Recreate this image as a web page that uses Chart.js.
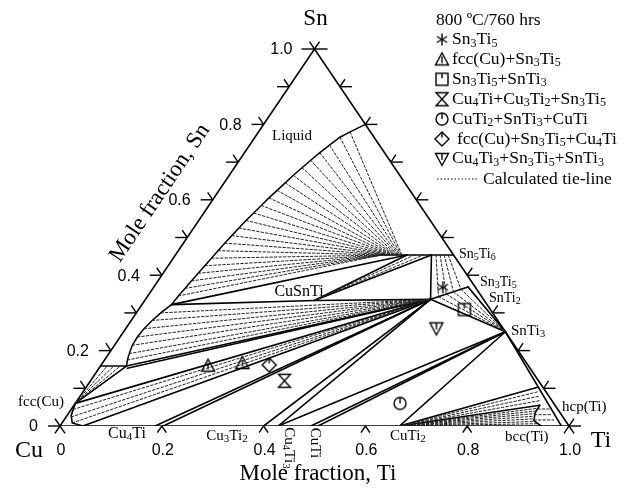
<!DOCTYPE html>
<html>
<head>
<meta charset="utf-8">
<script src="https://cdn.jsdelivr.net/npm/chart.js@4.4.1/dist/chart.umd.min.js"></script>
<style>
  html, body { margin: 0; padding: 0; background: #fff; }
  #wrap { width: 624px; height: 491px; }
</style>
</head>
<body>
<div id="wrap"><canvas id="chart" width="624" height="491"></canvas></div>
<script>
// Compositions are [x(Ti), x(Sn)] mole fractions; x(Cu) = 1 - x(Ti) - x(Sn).

const frame = [[0, 0], [1, 0], [0, 1], [0, 0]];

// liquid boundary, from the Sn-Ti side down to the Cu-rich end
const liquidBoundary = [
  [0.200, 0.800], [0.180, 0.780], [0.167, 0.766], [0.157, 0.745], [0.148, 0.725],
  [0.140, 0.705], [0.133, 0.685], [0.126, 0.665], [0.120, 0.645], [0.114, 0.625],
  [0.108, 0.605], [0.103, 0.585], [0.098, 0.565], [0.093, 0.545], [0.089, 0.525],
  [0.085, 0.505], [0.081, 0.485], [0.078, 0.465], [0.075, 0.445], [0.072, 0.425],
  [0.069, 0.405], [0.066, 0.385], [0.063, 0.365], [0.060, 0.345], [0.058, 0.322],
  [0.048, 0.300], [0.041, 0.280], [0.036, 0.258], [0.034, 0.236], [0.035, 0.214],
  [0.040, 0.192], [0.045, 0.175], [0.051, 0.159]
];

// phase boundaries and three-phase triangle edges
const phaseLines = [
  [[0.410, 0.4535], [0.5465, 0.4535]],            // Sn5Ti6
  [[0.058, 0.322], [0.455, 0.4535]],
  [[0.058, 0.322], [0.333, 0.333], [0.560, 0.336]], // through CuSnTi
  [[0.333, 0.333], [0.455, 0.4535]],
  [[0.333, 0.333], [0.503, 0.4535]],
  [[0.503, 0.4535], [0.560, 0.336]],
  [[0.560, 0.336], [0.617, 0.369]],               // Sn3Ti5
  [[0.617, 0.369], [0.750, 0.250]],
  [[0.560, 0.336], [0.750, 0.250]],
  [[0.051, 0.159], [0.000, 0.159]],
  [[0.051, 0.159], [0.560, 0.336]],
  [[0.056, 0.153], [0.560, 0.336]],
  [[0.000, 0.060], [0.051, 0.159]],
  [[0.000, 0.060], [0.560, 0.336]],
  [[0.000, 0.060], [0.008, 0.028], [0.020, 0.008], [0.045, 0.000]],
  [[0.045, 0.000], [0.560, 0.336]],
  [[0.187, 0.000], [0.560, 0.336]],               // Cu4Ti
  [[0.203, 0.000], [0.560, 0.336]],
  [[0.400, 0.000], [0.560, 0.336]],               // Cu3Ti2
  [[0.4286, 0.000], [0.560, 0.336]],              // Cu4Ti3
  [[0.4286, 0.000], [0.750, 0.250]],
  [[0.493, 0.000], [0.750, 0.250]],               // CuTi
  [[0.507, 0.000], [0.750, 0.250]],
  [[0.667, 0.000], [0.750, 0.250]],               // CuTi2
  [[0.750, 0.250], [0.985, 0.000]],               // hcp(Ti) limit
  [[0.667, 0.000], [0.887, 0.103]],
  [[0.667, 0.000], [0.915, 0.055]],
  [[0.915, 0.055], [0.916, 0.035], [0.924, 0.014], [0.945, 0.000]]
];

// calculated tie-lines
const tieLines = [
  // liquid + Sn5Ti6
  [[0.180, 0.780], [0.445, 0.4535]], [[0.167, 0.766], [0.443, 0.4535]],
  [[0.157, 0.745], [0.441, 0.4535]], [[0.148, 0.725], [0.439, 0.4535]],
  [[0.140, 0.705], [0.437, 0.4535]], [[0.133, 0.685], [0.435, 0.4535]],
  [[0.126, 0.665], [0.433, 0.4535]], [[0.120, 0.645], [0.431, 0.4535]],
  [[0.114, 0.625], [0.429, 0.4535]], [[0.108, 0.605], [0.427, 0.4535]],
  [[0.103, 0.585], [0.425, 0.4535]], [[0.098, 0.565], [0.423, 0.4535]],
  [[0.093, 0.545], [0.421, 0.4535]], [[0.089, 0.525], [0.419, 0.4535]],
  [[0.085, 0.505], [0.417, 0.4535]], [[0.081, 0.485], [0.415, 0.4535]],
  [[0.078, 0.465], [0.413, 0.4535]], [[0.075, 0.445], [0.411, 0.4535]],
  [[0.072, 0.425], [0.409, 0.4535]], [[0.069, 0.405], [0.408, 0.4535]],
  [[0.066, 0.385], [0.407, 0.4535]], [[0.063, 0.365], [0.406, 0.4535]],
  [[0.060, 0.345], [0.405, 0.4535]],
  // CuSnTi + Sn5Ti6
  [[0.333, 0.333], [0.470, 0.4535]], [[0.333, 0.333], [0.487, 0.4535]],
  // liquid + Sn3Ti5
  [[0.048, 0.300], [0.560, 0.336]], [[0.041, 0.280], [0.560, 0.336]],
  [[0.036, 0.258], [0.560, 0.336]], [[0.034, 0.236], [0.560, 0.336]],
  [[0.035, 0.214], [0.560, 0.336]], [[0.040, 0.192], [0.560, 0.336]],
  [[0.045, 0.175], [0.560, 0.336]],
  // liquid + fcc(Cu)
  [[0.000, 0.060], [0.013, 0.159]], [[0.000, 0.060], [0.026, 0.159]],
  [[0.000, 0.060], [0.039, 0.159]],
  // fcc(Cu) + Sn3Ti5
  [[0.004, 0.044], [0.560, 0.336]], [[0.010, 0.024], [0.560, 0.336]],
  [[0.020, 0.008], [0.560, 0.336]],
  // Sn5Ti6 + Sn3Ti5
  [[0.512, 0.4535], [0.572, 0.343]], [[0.520, 0.4535], [0.584, 0.350]],
  [[0.528, 0.4535], [0.595, 0.356]], [[0.536, 0.4535], [0.606, 0.363]],
  // Sn3Ti5 + SnTi3
  [[0.572, 0.343], [0.750, 0.250]], [[0.584, 0.350], [0.750, 0.250]],
  [[0.595, 0.356], [0.750, 0.250]], [[0.606, 0.363], [0.750, 0.250]],
  // CuTi2 + hcp(Ti)
  [[0.667, 0.000], [0.894, 0.091]], [[0.667, 0.000], [0.901, 0.079]],
  [[0.667, 0.000], [0.908, 0.067]],
  // CuTi2 + bcc(Ti)
  [[0.667, 0.000], [0.915, 0.047]], [[0.667, 0.000], [0.916, 0.040]],
  [[0.667, 0.000], [0.916, 0.033]], [[0.667, 0.000], [0.918, 0.026]],
  [[0.667, 0.000], [0.921, 0.019]], [[0.667, 0.000], [0.926, 0.012]],
  [[0.667, 0.000], [0.933, 0.006]],
  // hcp(Ti) + bcc(Ti)
  [[0.916, 0.045], [0.940, 0.045]], [[0.917, 0.030], [0.950, 0.030]],
  [[0.923, 0.016], [0.962, 0.016]]
];

// measured alloys, one array per phase assemblage
const sn3ti5Alloy = [[0.568, 0.368]];
const fccSn3ti5Alloys = [[0.211, 0.160], [0.275, 0.167]];
const sn3ti5Snti3Alloy = [[0.640, 0.309]];
const cu4tiCu3ti2Sn3ti5Alloy = [[0.381, 0.120]];
const cuti2Snti3CutiAlloy = [[0.638, 0.060]];
const fccSn3ti5Cu4tiAlloy = [[0.330, 0.162]];
const cu4ti3Sn3ti5Snti3Alloy = [[0.610, 0.259]];

const tickValues = [0.1, 0.2, 0.3, 0.4, 0.5, 0.6, 0.7, 0.8, 0.9];
const snTickLabels = ['0', '0.2', '0.4', '0.6', '0.8', '1.0'];
const tiTickLabels = ['0', '0.2', '0.4', '0.6', '0.8', '1.0'];
const legendTitle = '800 ºC/760 hrs';
const legendLabels = [
  'Sn3Ti5', 'fcc(Cu)+Sn3Ti5', 'Sn3Ti5+SnTi3', 'Cu4Ti+Cu3Ti2+Sn3Ti5',
  'CuTi2+SnTi3+CuTi', 'fcc(Cu)+Sn3Ti5+Cu4Ti', 'Cu4Ti3+Sn3Ti5+SnTi3'
];

const toXY = ([ti, sn]) => ({ x: ti + sn / 2, y: sn });

// ---- marker glyphs ----
function glyph(draw) {
  const c = document.createElement('canvas');
  c.width = 18; c.height = 18;
  const g = c.getContext('2d');
  g.strokeStyle = '#000'; g.lineWidth = 1.4; g.lineJoin = 'miter';
  g.translate(9, 9);
  draw(g);
  return c;
}
const line = (g, a, b, c, d) => { g.beginPath(); g.moveTo(a, b); g.lineTo(c, d); g.stroke(); };
const glyphs = [
  glyph(g => { for (let k = 0; k < 3; k++) { const t = Math.PI / 2 + k * Math.PI / 3; line(g, 6 * Math.cos(t), 6 * Math.sin(t), -6 * Math.cos(t), -6 * Math.sin(t)); } }),
  glyph(g => { g.beginPath(); g.moveTo(0, -6.5); g.lineTo(6.5, 5.5); g.lineTo(-6.5, 5.5); g.closePath(); g.stroke(); line(g, 0, -3, 0, 3.5); }),
  glyph(g => { g.strokeRect(-6, -6, 12, 12); line(g, 0, -6, 0, -1); }),
  glyph(g => { g.beginPath(); g.moveTo(-6, -6.5); g.lineTo(6, -6.5); g.lineTo(-6, 6.5); g.lineTo(6, 6.5); g.closePath(); g.stroke(); }),
  glyph(g => { g.beginPath(); g.arc(0, 0, 6, 0, Math.PI * 2); g.stroke(); line(g, 0, -6, 0, 0); }),
  glyph(g => { g.beginPath(); g.moveTo(0, -7); g.lineTo(7, 0); g.lineTo(0, 7); g.lineTo(-7, 0); g.closePath(); g.stroke(); line(g, 0, -7, 0, -1.5); }),
  glyph(g => { g.beginPath(); g.moveTo(-6.5, -5.5); g.lineTo(6.5, -5.5); g.lineTo(0, 6.5); g.closePath(); g.stroke(); line(g, 0, -5.5, 0, 1); })
];
const alloySets = [sn3ti5Alloy, fccSn3ti5Alloys, sn3ti5Snti3Alloy, cu4tiCu3ti2Sn3ti5Alloy,
  cuti2Snti3CutiAlloy, fccSn3ti5Cu4tiAlloy, cu4ti3Sn3ti5Snti3Alloy];

// ---- datasets ----
const datasets = [];
const addLine = (pts, opts) => datasets.push(Object.assign({
  data: pts.map(toXY), showLine: true, fill: false, pointRadius: 0,
  borderColor: '#000', borderWidth: 1.5, tension: 0
}, opts));
tieLines.forEach(t => addLine(t, { borderWidth: 1, borderDash: [2.5, 2], borderColor: '#222' }));
addLine(frame, { borderWidth: 1.6 });
addLine(liquidBoundary, { borderWidth: 1.5 });
phaseLines.forEach(p => addLine(p, { borderWidth: 1.6 }));
alloySets.forEach((set, i) => datasets.push({
  data: set.map(toXY), showLine: false, pointStyle: glyphs[i], pointRadius: 7
}));

// ---- text helpers ----
const SERIF = '"Liberation Serif", "Times New Roman", serif';
const SANS = '"Liberation Sans", Arial, sans-serif';
function formulaRuns(text) {
  const runs = [];
  for (let i = 0; i < text.length; i++) {
    const ch = text[i];
    const prev = i > 0 ? text[i - 1] : '';
    const sub = /[0-9]/.test(ch) && (/[A-Za-z]/.test(prev) || (runs.length && runs[runs.length - 1].sub && /[0-9]/.test(prev)));
    if (runs.length && runs[runs.length - 1].sub === sub) runs[runs.length - 1].t += ch;
    else runs.push({ t: ch, sub });
  }
  return runs;
}
function drawFormula(ctx, text, x, y, size, align) {
  const runs = formulaRuns(text);
  const subSize = Math.round(size * 0.7);
  let w = 0;
  runs.forEach(r => { ctx.font = (r.sub ? subSize : size) + 'px ' + SERIF; r.w = ctx.measureText(r.t).width; w += r.w; });
  let cx = align === 'center' ? x - w / 2 : align === 'right' ? x - w : x;
  ctx.textAlign = 'left';
  ctx.textBaseline = 'middle';
  runs.forEach(r => {
    ctx.font = (r.sub ? subSize : size) + 'px ' + SERIF;
    ctx.fillText(r.t, cx, r.sub ? y + size * 0.22 : y);
    cx += r.w;
  });
}

const decor = {
  id: 'ternaryDecor',
  afterDatasetsDraw(chart) {
    const ctx = chart.ctx;
    const xs = chart.scales.x, ys = chart.scales.y;
    const px = (ti, sn) => [xs.getPixelForValue(ti + sn / 2), ys.getPixelForValue(sn)];
    const unit = (a, b) => { const dx = b[0] - a[0], dy = b[1] - a[1], l = Math.hypot(dx, dy); return [dx / l, dy / l]; };
    const pCu = px(0, 0), pTi = px(1, 0), pSn = px(0, 1);
    const dCuSn = unit(pCu, pSn), dTiSn = unit(pTi, pSn);
    const seg = (p, dx, dy) => { ctx.beginPath(); ctx.moveTo(p[0], p[1]); ctx.lineTo(p[0] + dx, p[1] + dy); ctx.stroke(); };
    const cross = (p, d, len) => { ctx.beginPath(); ctx.moveTo(p[0] - d[0] * len, p[1] - d[1] * len); ctx.lineTo(p[0] + d[0] * len, p[1] + d[1] * len); ctx.stroke(); };

    ctx.save();
    ctx.strokeStyle = '#000';
    ctx.fillStyle = '#000';
    ctx.lineWidth = 1.4;

    // edge ticks
    tickValues.forEach(v => {
      const l = px(0, v);
      seg(l, -12, 0); seg(l, dTiSn[0] * 9, dTiSn[1] * 9);
      const r = px(1 - v, v);
      seg(r, 12, 0); seg(r, dCuSn[0] * 9, dCuSn[1] * 9);
    });
    [0.2, 0.4, 0.6, 0.8].forEach(v => {
      const b = px(v, 0);
      seg(b, -dCuSn[0] * 8, -dCuSn[1] * 8); seg(b, -dTiSn[0] * 8, -dTiSn[1] * 8);
    });
    // corner crosses
    seg(pSn, -13, 0); seg(pSn, 13, 0);
    seg(pSn, dCuSn[0] * 9, dCuSn[1] * 9); seg(pSn, dTiSn[0] * 9, dTiSn[1] * 9);
    seg(pCu, -12, 0); seg(pCu, -dCuSn[0] * 9, -dCuSn[1] * 9); cross(pCu, dTiSn, 9);
    seg(pTi, 12, 0); seg(pTi, -dTiSn[0] * 9, -dTiSn[1] * 9); cross(pTi, dCuSn, 9);

    // tick labels
    ctx.font = '16px ' + SANS;
    ctx.textBaseline = 'middle';
    ctx.textAlign = 'right';
    snTickLabels.forEach((t, i) => { const p = px(0, i / 5); ctx.fillText(t, p[0] - 22, p[1] + 1); });
    ctx.textAlign = 'center';
    tiTickLabels.forEach((t, i) => { const p = px(i / 5, 0); ctx.fillText(t, p[0] + 1, p[1] + 25); });

    // corner and axis titles
    ctx.font = '23px ' + SERIF;
    ctx.fillText('Sn', pSn[0] + 1, pSn[1] - 30);
    ctx.font = '24px ' + SERIF;
    ctx.fillText('Cu', pCu[0] - 31, pCu[1] + 25);
    ctx.fillText('Ti', pTi[0] + 32, pTi[1] + 15);
    ctx.font = '23px ' + SERIF;
    ctx.fillText('Mole fraction, Ti', 318, 474);
    ctx.save();
    ctx.translate(160, 193);
    ctx.rotate(-Math.atan2(pCu[1] - pSn[1], pSn[0] - pCu[0]));
    ctx.fillText('Mole fraction, Sn', 0, 0);
    ctx.restore();

    // phase labels
    drawFormula(ctx, 'Liquid', 292, 136, 15, 'center');
    drawFormula(ctx, 'CuSnTi', 299, 292, 16, 'center');
    drawFormula(ctx, 'Sn5Ti6', 459, 254, 14, 'left');
    drawFormula(ctx, 'Sn3Ti5', 480, 282, 14, 'left');
    drawFormula(ctx, 'SnTi2', 489, 298, 14, 'left');
    drawFormula(ctx, 'SnTi3', 511, 331, 15, 'left');
    drawFormula(ctx, 'hcp(Ti)', 562, 407, 15, 'left');
    drawFormula(ctx, 'bcc(Ti)', 505, 437, 15, 'left');
    drawFormula(ctx, 'CuTi2', 390, 436, 15, 'left');
    drawFormula(ctx, 'Cu3Ti2', 227, 436, 15, 'center');
    drawFormula(ctx, 'Cu4Ti', 127, 434, 16, 'center');
    drawFormula(ctx, 'fcc(Cu)', 41, 402, 15, 'center');
    ctx.save(); ctx.translate(315, 443); ctx.rotate(Math.PI / 2);
    drawFormula(ctx, 'CuTi', 0, 0, 15, 'center'); ctx.restore();
    ctx.save(); ctx.translate(289, 448); ctx.rotate(Math.PI / 2);
    drawFormula(ctx, 'Cu4Ti3', 0, 0, 15, 'center'); ctx.restore();

    // legend
    drawFormula(ctx, legendTitle, 436, 20, 17.5, 'left');
    legendLabels.forEach((t, i) => {
      const y = 39.5 + i * 19.9;
      ctx.drawImage(glyphs[i], 442 - 9, y - 9);
      drawFormula(ctx, t, i === 5 ? 457 : 452, y, 17.5, 'left');
    });
    ctx.lineWidth = 1;
    ctx.setLineDash([1.5, 2]);
    ctx.beginPath(); ctx.moveTo(437, 179); ctx.lineTo(477, 179); ctx.stroke();
    ctx.setLineDash([]);
    drawFormula(ctx, 'Calculated tie-line', 483, 179, 17.5, 'left');
    ctx.restore();
  }
};

new Chart(document.getElementById('chart'), {
  type: 'scatter',
  data: { datasets },
  options: {
    responsive: false,
    animation: false,
    devicePixelRatio: 1,
    layout: { padding: { left: 60, right: 55, top: 49, bottom: 65 } },
    plugins: { legend: { display: false }, tooltip: { enabled: false } },
    scales: {
      x: { type: 'linear', min: 0, max: 1, display: false },
      y: { type: 'linear', min: 0, max: 1, display: false }
    },
    elements: { line: { borderCapStyle: 'round' } }
  },
  plugins: [decor]
});
</script>
</body>
</html>
